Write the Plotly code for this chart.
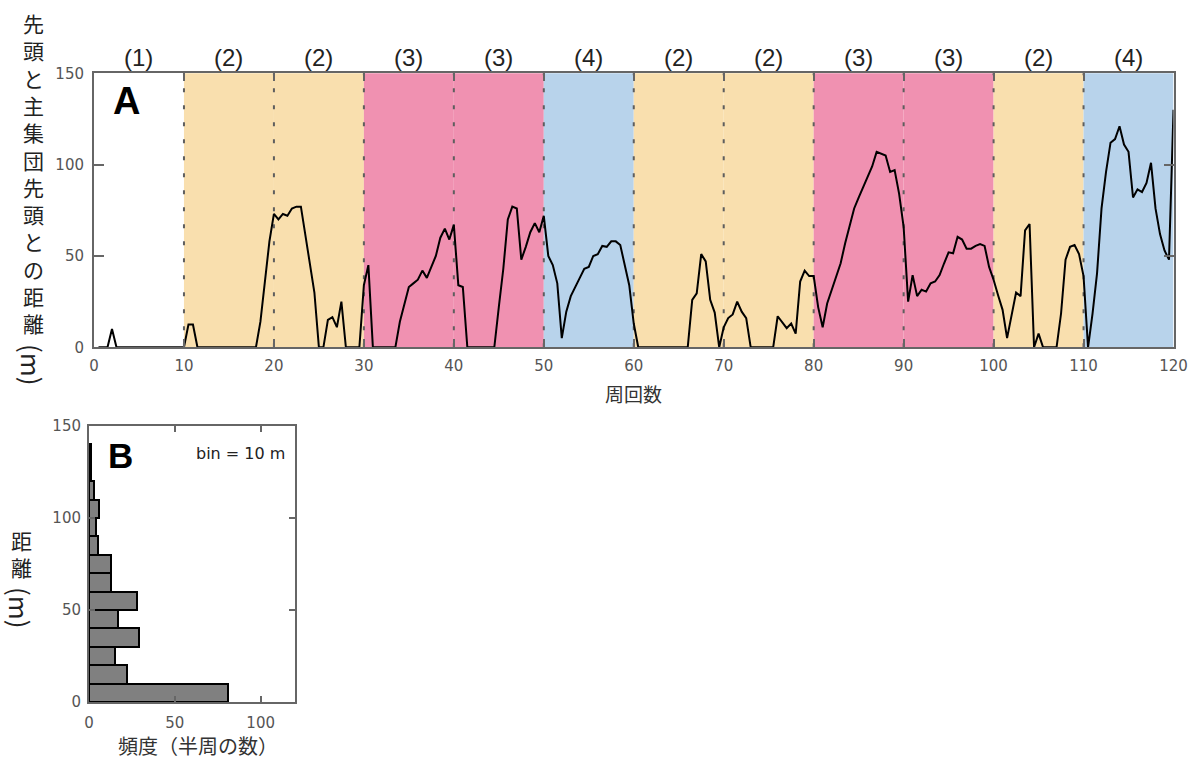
import numpy as np
import plotly.graph_objects as go

# ---------------- data ----------------
# distance (m) between the leader and the head of the main pack, every half lap
gap_01_10 = [0, 0, 0, 10, 0, 0, 0, 0, 0, 0, 0, 0, 0, 0, 0, 0, 0, 0, 0, 0]
gap_11_20 = [12.5, 12.5, 0, 0, 0, 0, 0, 0, 0, 0, 0, 0, 0, 0, 0, 0, 14, 38, 58, 73]
gap_21_30 = [70, 73, 72, 76, 77, 77, 61, 45, 30, 0, 0, 15, 16.5, 11, 25, 0, 0, 0, 0, 34]
gap_31_40 = [45, 0, 0, 0, 0, 0, 0, 14, 24, 33, 35, 37, 42, 38, 44, 50, 60, 65, 59, 67]
gap_41_50 = [34, 33, 0, 0, 0, 0, 0, 0, 0, 22, 43, 70, 77, 76, 48, 55, 63, 68, 63, 72]
gap_51_60 = [50, 45, 35, 5, 19.5, 28, 33.5, 38, 43, 44, 50, 51, 55.5, 55, 58, 58, 56, 44, 34, 13]
gap_61_70 = [0, 0, 0, 0, 0, 0, 0, 0, 0, 0, 0, 0, 26, 29.5, 51, 47, 26, 19, 0, 11]
gap_71_80 = [16, 18, 25, 19.5, 16, 0, 0, 0, 0, 0, 0, 17, 14, 10.5, 13, 7.5, 36, 42, 39, 39]
gap_81_90 = [22, 11, 24, 31, 39, 46, 57, 66, 76, 82, 88, 93, 99, 107, 106, 105, 96, 97, 84, 66]
gap_91_100 = [25, 39.5, 28, 31.5, 30.5, 35, 36, 39.5, 46, 52, 51.5, 60.5, 59, 54, 54, 55.5, 56.5, 55.5, 44, 37]
gap_101_110 = [28.5, 20.5, 5, 17.5, 30, 28, 64, 67.5, 0, 7.5, 0, 0, 0, 0, 18.5, 48, 55, 56, 51, 39]
gap_111_120 = [0, 18.5, 40.5, 76, 96, 112, 114, 121, 111, 107, 82, 86.5, 85, 90, 101, 76, 62, 53, 48, 130]

gap = (gap_01_10 + gap_11_20 + gap_21_30 + gap_31_40 + gap_41_50 + gap_51_60 +
       gap_61_70 + gap_71_80 + gap_81_90 + gap_91_100 + gap_101_110 + gap_111_120)
laps = np.arange(1, len(gap) + 1) * 0.5

# phase of each block of 10 laps
block_start = [0, 10, 20, 30, 40, 50, 60, 70, 80, 90, 100, 110]
block_phase = ["(1)", "(2)", "(2)", "(3)", "(3)", "(4)", "(2)", "(2)", "(3)", "(3)", "(2)", "(4)"]

# histogram of the distance (bin = 10 m)
hist_bin_low = [0, 10, 20, 30, 40, 50, 60, 70, 80, 90, 100, 110, 120, 130]
hist_count = [81, 22, 15, 29, 17, 28, 13, 13, 5, 4, 6, 3, 1, 1]

# ---------------- style ----------------
phase_color = {"(1)": "rgba(255,255,255,0)", "(2)": "#F9DFAE", "(3)": "#F091B1", "(4)": "#B8D3EB"}
LAT = "Liberation Sans, Arial, Noto Sans CJK JP, sans-serif"
NUM = "DejaVu Sans, Liberation Sans, sans-serif"
CJK = "Noto Sans CJK JP, sans-serif"
AX = "#666666"
TICKC = "#555555"

W, H = 1200, 761
A_dom_x = [94 / W, 1173.5 / W]
A_dom_y = [1 - 347.3 / H, 1 - 73.3 / H]
B_dom_x = [89 / W, 295 / W]
B_dom_y = [1 - 702 / H, 1 - 426 / H]

fig = go.Figure()

fig.add_trace(go.Scatter(x=laps, y=gap, mode="lines",
                         line=dict(color="black", width=2),
                         xaxis="x", yaxis="y", showlegend=False, hoverinfo="x+y"))

bin_w = 10
fig.add_trace(go.Bar(y=[b + bin_w / 2 for b in hist_bin_low], x=hist_count, orientation="h",
                     width=bin_w, marker=dict(color="#808080", line=dict(color="black", width=2)),
                     xaxis="x2", yaxis="y2", showlegend=False))

shapes = []
for s, p in zip(block_start, block_phase):
    shapes.append(dict(type="rect", xref="x", yref="y domain", x0=s, x1=s + 10, y0=0, y1=1,
                       fillcolor=phase_color[p], line=dict(width=0), layer="below"))
for s in block_start[1:]:
    shapes.append(dict(type="line", xref="x", yref="y domain", x0=s, x1=s, y0=0, y1=1,
                       line=dict(color="#5e5e5e", width=2, dash="4px,13px"), layer="below"))

annotations = []
for s, p in zip(block_start, block_phase):
    annotations.append(dict(x=s + 5, xref="x", y=1 - 58 / H, yref="paper", text=p,
                            showarrow=False, font=dict(family=LAT, size=24, color="#222222"),
                            xanchor="center", yanchor="middle"))

annotations.append(dict(x=126 / W, y=1 - 101 / H, xref="paper", yref="paper", text="<b>A</b>",
                        showarrow=False, font=dict(family=LAT, size=38, color="black"),
                        xanchor="center", yanchor="middle"))
annotations.append(dict(x=120 / W, y=1 - 455 / H, xref="paper", yref="paper", text="<b>B</b>",
                        showarrow=False, font=dict(family=LAT, size=35, color="black"),
                        xanchor="center", yanchor="middle"))
annotations.append(dict(x=287 / W, y=1 - 453 / H, xref="paper", yref="paper", text="bin = 10 m",
                        showarrow=False, font=dict(family=NUM, size=16, color="#222222"),
                        xanchor="right", yanchor="middle"))

# axis titles
annotations.append(dict(x=(94 + 1173.5) / 2 / W, y=1 - 393 / H, xref="paper", yref="paper",
                        text="周回数", showarrow=False, font=dict(family=CJK, size=19, color="#333333"),
                        xanchor="center", yanchor="middle"))
annotations.append(dict(x=198 / W, y=1 - 745 / H, xref="paper", yref="paper",
                        text="頻度（半周の数）", showarrow=False,
                        font=dict(family=CJK, size=20, color="#333333"),
                        xanchor="center", yanchor="middle"))

# vertical (stacked) y titles
title_a = "先頭と主集団先頭との距離"
annotations.append(dict(x=33 / W, y=1 - 173 / H, xref="paper", yref="paper",
                        text="<br>".join(title_a), showarrow=False, align="center",
                        font=dict(family=CJK, size=21, color="#222222"),
                        xanchor="center", yanchor="middle"))
annotations.append(dict(x=33 / W, y=1 - 365 / H, xref="paper", yref="paper", text="(m)",
                        textangle=90, showarrow=False, font=dict(family=CJK, size=26, color="#222222"),
                        xanchor="center", yanchor="middle"))
title_b = "距離"
annotations.append(dict(x=21 / W, y=1 - 553 / H, xref="paper", yref="paper",
                        text="<br>".join(title_b), showarrow=False, align="center",
                        font=dict(family=CJK, size=21, color="#222222"),
                        xanchor="center", yanchor="middle"))
annotations.append(dict(x=21 / W, y=1 - 608 / H, xref="paper", yref="paper", text="(m)",
                        textangle=90, showarrow=False, font=dict(family=CJK, size=26, color="#222222"),
                        xanchor="center", yanchor="middle"))

axis_common = dict(showline=True, linecolor=AX, linewidth=2, mirror="allticks",
                   ticks="inside", tickcolor=AX, tickwidth=2, showgrid=False, zeroline=False,
                   tickfont=dict(family=NUM, size=15, color=TICKC), automargin=False)

fig.update_layout(
    width=W, height=H,
    margin=dict(l=0, r=0, t=0, b=0),
    paper_bgcolor="white", plot_bgcolor="white",
    xaxis=dict(domain=A_dom_x, anchor="y", range=[0, 120], dtick=10, tick0=0, ticklen=8,
               ticklabelstandoff=4, **axis_common),
    yaxis=dict(domain=A_dom_y, anchor="x", range=[0, 150], dtick=50, tick0=0, ticklen=10,
               ticklabelstandoff=5, **axis_common),
    xaxis2=dict(domain=B_dom_x, anchor="y2", range=[0, 120], dtick=50, tick0=0, ticklen=6,
                ticklabelstandoff=6, **axis_common),
    yaxis2=dict(domain=B_dom_y, anchor="x2", range=[0, 150], dtick=50, tick0=0, ticklen=6,
                ticklabelstandoff=3, **axis_common),
    shapes=shapes,
    annotations=annotations,
    bargap=0,
)

fig.write_html("out.html")
